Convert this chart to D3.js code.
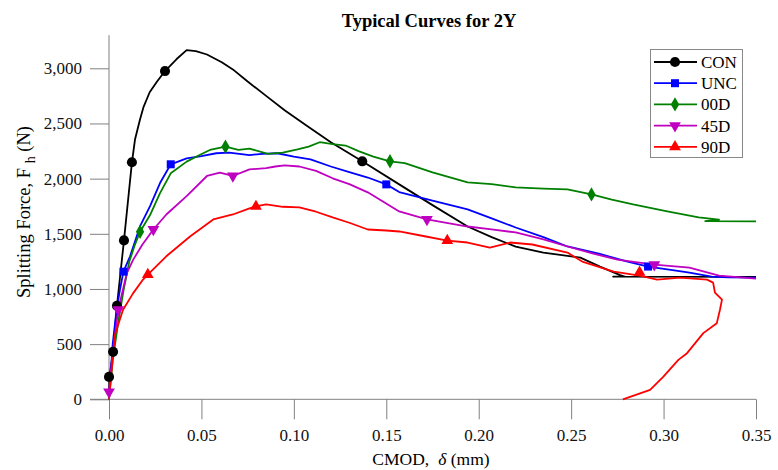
<!DOCTYPE html>
<html>
<head>
<meta charset="utf-8">
<script src="https://cdn.jsdelivr.net/npm/d3@7"></script>
<style>
  body { margin: 0; background: white; }
  text { font-family: "Liberation Serif", "Times New Roman", serif; }
</style>
</head>
<body>
<script>
// CMOD (mm) / splitting force (N)
let conX = [0, 0.0002, 0.0022, 0.0043, 0.0081, 0.0124, 0.0141, 0.0168, 0.0186, 0.022, 0.026, 0.0303, 0.0366, 0.042, 0.047, 0.053, 0.061, 0.067, 0.075, 0.085, 0.095, 0.107, 0.12, 0.137, 0.157, 0.175, 0.194, 0.207, 0.22, 0.235, 0.248, 0.255, 0.2656, 0.2765, 0.279, 0.2727, 0.35]
let conY = [0, 203, 430, 848, 1440, 2148, 2357, 2539, 2645, 2783, 2880, 2975, 3084, 3165, 3155, 3125, 3055, 2990, 2880, 2750, 2620, 2480, 2330, 2157, 1948, 1760, 1566, 1470, 1384, 1330, 1300, 1284, 1203, 1125, 1112, 1112, 1110]
let conMx = [0, 0.0022, 0.0043, 0.0081, 0.0124, 0.0303, 0.137]
let conMy = [203, 430, 848, 1440, 2148, 2975, 2157]

let uncX = [0, 0.001, 0.002, 0.004, 0.006, 0.0078, 0.0114, 0.0168, 0.0222, 0.0276, 0.0334, 0.042, 0.050, 0.058, 0.065, 0.076, 0.083, 0.091, 0.100, 0.109, 0.120, 0.130, 0.140, 0.150, 0.157, 0.175, 0.194, 0.207, 0.220, 0.235, 0.248, 0.265, 0.280, 0.2916, 0.303, 0.314, 0.326, 0.335, 0.35]
let uncY = [0, 250, 500, 800, 1000, 1157, 1296, 1569, 1751, 1960, 2130, 2184, 2205, 2230, 2235, 2214, 2225, 2230, 2200, 2175, 2110, 2060, 2010, 1948, 1878, 1800, 1721, 1640, 1557, 1470, 1385, 1320, 1250, 1203, 1175, 1148, 1112, 1105, 1103]
let uncMx = [0.0078, 0.0334, 0.150, 0.2916]
let uncMy = [1157, 2130, 1948, 1203]

let d00X = [0, 0.002, 0.005, 0.008, 0.011, 0.014, 0.0168, 0.0222, 0.0276, 0.0334, 0.042, 0.049, 0.0546, 0.063, 0.070, 0.076, 0.086, 0.094, 0.102, 0.108, 0.114, 0.121, 0.128, 0.135, 0.143, 0.152, 0.160, 0.175, 0.194, 0.207, 0.220, 0.235, 0.248, 0.261, 0.272, 0.2835, 0.302, 0.319, 0.330, 0.3225, 0.35]
let d00Y = [0, 350, 700, 1000, 1250, 1400, 1519, 1670, 1869, 2048, 2154, 2214, 2260, 2290, 2260, 2272, 2225, 2235, 2265, 2290, 2330, 2312, 2300, 2250, 2200, 2157, 2140, 2057, 1966, 1950, 1921, 1910, 1903, 1857, 1810, 1766, 1703, 1648, 1628, 1614, 1612]
let d00Mx = [0.0168, 0.063, 0.152, 0.261]
let d00My = [1519, 2290, 2157, 1857]

let d45X = [0, 0.002, 0.005, 0.0096, 0.0131, 0.018, 0.024, 0.031, 0.042, 0.053, 0.060, 0.067, 0.076, 0.085, 0.090, 0.095, 0.103, 0.112, 0.121, 0.130, 0.140, 0.157, 0.172, 0.194, 0.207, 0.220, 0.235, 0.248, 0.262, 0.275, 0.295, 0.314, 0.330, 0.35]
let d45Y = [66, 420, 812, 1142, 1266, 1400, 1539, 1675, 1842, 2024, 2054, 2024, 2084, 2095, 2110, 2120, 2110, 2070, 2003, 1950, 1876, 1703, 1630, 1566, 1540, 1512, 1450, 1385, 1320, 1266, 1220, 1194, 1121, 1094]
let d45Mx = [0, 0.005, 0.024, 0.067, 0.172, 0.295]
let d45My = [66, 812, 1539, 2024, 1630, 1220]

let d90X = [0, 0.0032, 0.0076, 0.013, 0.0184, 0.021, 0.031, 0.044, 0.0564, 0.067, 0.076, 0.0795, 0.085, 0.094, 0.103, 0.112, 0.121, 0.130, 0.140, 0.150, 0.157, 0.170, 0.183, 0.194, 0.206, 0.217, 0.229, 0.248, 0.256, 0.273, 0.287, 0.2965, 0.309, 0.3235, 0.3268, 0.3278, 0.3316, 0.3305, 0.3288, 0.3215, 0.3127, 0.308, 0.2998, 0.2927, 0.278]
let d90Y = [0, 585, 812, 960, 1085, 1130, 1296, 1478, 1630, 1675, 1731, 1748, 1766, 1745, 1739, 1700, 1648, 1600, 1539, 1530, 1521, 1480, 1439, 1421, 1375, 1421, 1403, 1330, 1248, 1157, 1120, 1085, 1103, 1085, 1058, 966, 903, 812, 690, 600, 418, 357, 203, 85, 0]
let d90Mx = [0.021, 0.0795, 0.183, 0.287]
let d90My = [1130, 1748, 1439, 1150]

let names = ['CON', 'UNC', '00D', '45D', '90D']
let colors = ['black', 'blue', 'green', '#c000c0', 'red']
let xTicks = [0, 0.05, 0.10, 0.15, 0.20, 0.25, 0.30, 0.35]
let yTicks = [0, 500, 1000, 1500, 2000, 2500, 3000]

function main(){
    const width = 778
    const height = 470

    let svg = d3.select('body')
        .append('svg')
        .attr('width', width)
        .attr('height', height)

    let xScale = d3.scaleLinear().domain([0, 0.35]).range([109, 756])
    let yScale = d3.scaleLinear().domain([0, 3300]).range([399.3, 35.2])

    let series = [
        {x: conX, y: conY, mx: conMx, my: conMy, sym: d3.symbolCircle, size: 80, rot: 0},
        {x: uncX, y: uncY, mx: uncMx, my: uncMy, sym: d3.symbolSquare, size: 64, rot: 0},
        {x: d00X, y: d00Y, mx: d00Mx, my: d00My, sym: d3.symbolDiamond, size: 60, rot: 0},
        {x: d45X, y: d45Y, mx: d45Mx, my: d45My, sym: d3.symbolTriangle, size: 60, rot: 180},
        {x: d90X, y: d90Y, mx: d90Mx, my: d90My, sym: d3.symbolTriangle, size: 60, rot: 0}
    ]

    // axes
    let axisColor = '#808080'
    let xAxis = svg.append('g')
        .attr('transform', `translate(0,${yScale(0)})`)
        .call(d3.axisBottom(xScale).tickValues(xTicks).tickSize(20).tickSizeOuter(0).tickPadding(9.5)
            .tickFormat(d3.format('.2f')))
    let yAxis = svg.append('g')
        .attr('transform', `translate(${xScale(0)},0)`)
        .call(d3.axisLeft(yScale).tickValues(yTicks).tickSize(19).tickSizeOuter(0).tickPadding(8)
            .tickFormat(d3.format(',')))
    for (let ax of [xAxis, yAxis]) {
        ax.select('.domain').remove()
        ax.selectAll('line').attr('stroke', axisColor)
        ax.selectAll('text').attr('font-size', '17px').attr('fill', '#111')
            .style('font-family', '"Liberation Serif", serif')
    }
    svg.append('line')
        .attr('x1', 90).attr('x2', xScale(0.35))
        .attr('y1', yScale(0)).attr('y2', yScale(0))
        .attr('stroke', axisColor)
    svg.append('line')
        .attr('x1', xScale(0)).attr('x2', xScale(0))
        .attr('y1', yScale(3300)).attr('y2', yScale(0))
        .attr('stroke', axisColor)

    // curves
    let line = d3.line()
    series.forEach(function (s, k){
        let pts = s.x.map((v, i) => [xScale(v), yScale(s.y[i])])
        svg.append('path')
            .attr('d', line(pts))
            .attr('fill', 'none')
            .attr('stroke', colors[k])
            .attr('stroke-width', 1.8)
            .attr('stroke-linejoin', 'round')
    })
    series.forEach(function (s, k){
        svg.append('g').selectAll('path')
            .data(s.mx)
            .enter()
            .append('path')
            .attr('d', d3.symbol().type(s.sym).size(s.size))
            .attr('transform', (d, i) => `translate(${xScale(d)},${yScale(s.my[i])}) rotate(${s.rot})`)
            .attr('fill', colors[k])
    })

    // legend
    svg.append('rect')
        .attr('x', 650.5).attr('y', 49.5)
        .attr('width', 92).attr('height', 108)
        .attr('fill', 'white')
        .attr('stroke', '#888')
    series.forEach(function (s, k){
        let y = 62 + k * 21.2
        svg.append('line')
            .attr('x1', 654).attr('x2', 697)
            .attr('y1', y).attr('y2', y)
            .attr('stroke', colors[k]).attr('stroke-width', 1.8)
        svg.append('path')
            .attr('d', d3.symbol().type(s.sym).size(s.size))
            .attr('transform', `translate(675,${y}) rotate(${s.rot})`)
            .attr('fill', colors[k])
        svg.append('text')
            .attr('x', 701).attr('y', y)
            .attr('dy', '0.35em')
            .attr('font-size', '17px')
            .text(names[k])
    })

    // titles
    svg.append('text')
        .attr('x', 429).attr('y', 27)
        .attr('text-anchor', 'middle')
        .attr('font-size', '18.5px')
        .attr('font-weight', 'bold')
        .text('Typical Curves for 2Y')

    let xt = svg.append('text')
        .attr('x', 431).attr('y', 465)
        .attr('text-anchor', 'middle')
        .attr('font-size', '17.5px')
    xt.append('tspan').text('CMOD,')
    xt.append('tspan').attr('dx', 9).attr('font-style', 'italic').text('δ')
    xt.append('tspan').text(' (mm)')

    let yt = svg.append('text')
        .attr('transform', 'translate(30,212) rotate(-90)')
        .attr('text-anchor', 'middle')
        .attr('font-size', '18.5px')
    yt.append('tspan').text('Splitting Force, F ')
    yt.append('tspan').attr('dy', 5).attr('font-size', '14px').text('h')
    yt.append('tspan').attr('dy', -5).text(' (N)')
}

main()
</script>
</body>
</html>
